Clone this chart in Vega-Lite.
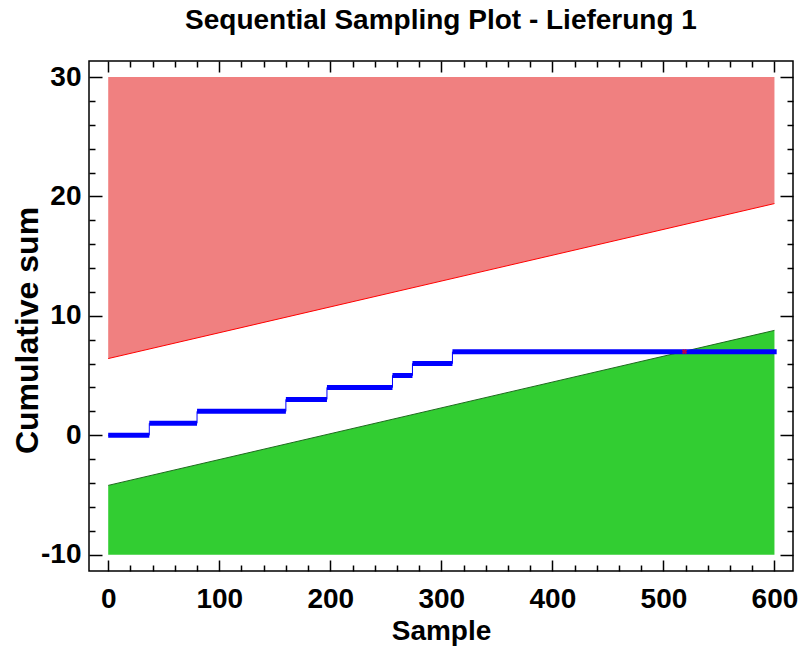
{
  "$schema": "https://vega.github.io/schema/vega-lite/v6.json",
  "width": 704,
  "height": 510,
  "autosize": {"type": "none"},
  "padding": {"left": 89, "top": 61, "right": 9, "bottom": 76},
  "background": "white",
  "title": {
    "text": "Sequential Sampling Plot - Lieferung 1",
    "font": "Liberation Sans",
    "fontSize": 28,
    "fontWeight": "bold",
    "color": "black",
    "anchor": "middle",
    "offset": 25
  },
  "config": {
    "view": {"stroke": "black", "strokeWidth": 1.5},
    "axis": {
      "domain": false,
      "grid": false,
      "tickColor": "black",
      "tickWidth": 1.5,
      "labelFont": "Liberation Sans",
      "labelFontWeight": "bold",
      "labelFontSize": 28,
      "labelColor": "black",
      "titleFont": "Liberation Sans",
      "titleFontWeight": "bold",
      "titleFontSize": 28,
      "titleColor": "black"
    }
  },
  "datasets": {
    "upper": [
      {"sample": 0, "limit": 6.42, "top": 30},
      {"sample": 600, "limit": 19.40, "top": 30}
    ],
    "lower": [
      {"sample": 0, "limit": -4.2, "bottom": -10},
      {"sample": 600, "limit": 8.78, "bottom": -10}
    ],
    "steps": [
      {"start": 0, "end": 37, "cum": 0},
      {"start": 37, "end": 80, "cum": 1},
      {"start": 80, "end": 160, "cum": 2},
      {"start": 160, "end": 197, "cum": 3},
      {"start": 197, "end": 256, "cum": 4},
      {"start": 256, "end": 274, "cum": 5},
      {"start": 274, "end": 310, "cum": 6},
      {"start": 310, "end": 602, "cum": 7}
    ],
    "cross": [
      {"sample": 519, "cum": 7}
    ]
  },
  "resolve": {"axis": {"x": "independent", "y": "independent"}},
  "layer": [
    {
      "data": {"name": "upper"},
      "mark": {"type": "area", "color": "#F08080", "opacity": 1},
      "encoding": {
        "x": {"field": "sample", "type": "quantitative",
              "scale": {"domain": [-17.3, 616.7], "nice": false, "zero": false},
              "axis": {"orient": "bottom", "title": "Sample", "values": [0, 100, 200, 300, 400, 500, 600], "tickSize": -11, "labelPadding": 25, "titlePadding": 4}},
        "y": {"field": "limit", "type": "quantitative",
              "scale": {"domain": [-11.37, 31.34], "nice": false, "zero": false},
              "axis": {"orient": "left", "title": "Cumulative sum", "titleFontSize": 32, "titleX": -52, "titleY": 269, "titleBaseline": "alphabetic", "titleAngle": 270, "values": [-10, 0, 10, 20, 30], "labelExpr": "datum.value < 0 ? '-' + abs(datum.value) : '' + datum.value", "tickSize": -13, "labelPadding": 21}},
        "y2": {"field": "top"}
      }
    },
    {
      "data": {"name": "upper"},
      "mark": {"type": "line", "color": "#FF0000", "strokeWidth": 1},
      "encoding": {
        "x": {"field": "sample", "type": "quantitative",
              "axis": {"orient": "top", "title": null, "labels": false, "values": [0, 100, 200, 300, 400, 500, 600], "tickSize": -11}},
        "y": {"field": "limit", "type": "quantitative",
              "axis": {"orient": "right", "title": null, "labels": false, "values": [-10, 0, 10, 20, 30], "tickSize": -13}}
      }
    },
    {
      "data": {"name": "lower"},
      "mark": {"type": "area", "color": "#32CD32", "opacity": 1},
      "encoding": {
        "x": {"field": "sample", "type": "quantitative",
              "axis": {"orient": "bottom", "title": null, "labels": false, "values": [20, 40, 60, 80, 120, 140, 160, 180, 220, 240, 260, 280, 320, 340, 360, 380, 420, 440, 460, 480, 520, 540, 560, 580], "tickSize": -6}},
        "y": {"field": "limit", "type": "quantitative",
              "axis": {"orient": "left", "title": null, "labels": false, "values": [-8, -6, -4, -2, 2, 4, 6, 8, 12, 14, 16, 18, 22, 24, 26, 28], "tickSize": -6}},
        "y2": {"field": "bottom"}
      }
    },
    {
      "data": {"name": "lower"},
      "mark": {"type": "line", "color": "#1E6B1E", "strokeWidth": 1},
      "encoding": {
        "x": {"field": "sample", "type": "quantitative",
              "axis": {"orient": "top", "title": null, "labels": false, "values": [20, 40, 60, 80, 120, 140, 160, 180, 220, 240, 260, 280, 320, 340, 360, 380, 420, 440, 460, 480, 520, 540, 560, 580], "tickSize": -6}},
        "y": {"field": "limit", "type": "quantitative",
              "axis": {"orient": "right", "title": null, "labels": false, "values": [-8, -6, -4, -2, 2, 4, 6, 8, 12, 14, 16, 18, 22, 24, 26, 28], "tickSize": -6}}
      }
    },
    {
      "data": {"name": "steps"},
      "mark": {"type": "line", "interpolate": "step-after", "color": "#0000FF", "strokeWidth": 1},
      "encoding": {
        "x": {"field": "start", "type": "quantitative", "axis": null},
        "y": {"field": "cum", "type": "quantitative", "axis": null}
      }
    },
    {
      "data": {"name": "steps"},
      "mark": {"type": "rule", "color": "#0000FF", "strokeWidth": 5},
      "encoding": {
        "x": {"field": "start", "type": "quantitative", "axis": null},
        "x2": {"field": "end"},
        "y": {"field": "cum", "type": "quantitative", "axis": null}
      }
    },
    {
      "data": {"name": "cross"},
      "mark": {"type": "point", "shape": "cross", "angle": 45, "color": "#FF0000", "filled": true, "size": 30},
      "encoding": {
        "x": {"field": "sample", "type": "quantitative", "axis": null},
        "y": {"field": "cum", "type": "quantitative", "axis": null}
      }
    }
  ]
}
